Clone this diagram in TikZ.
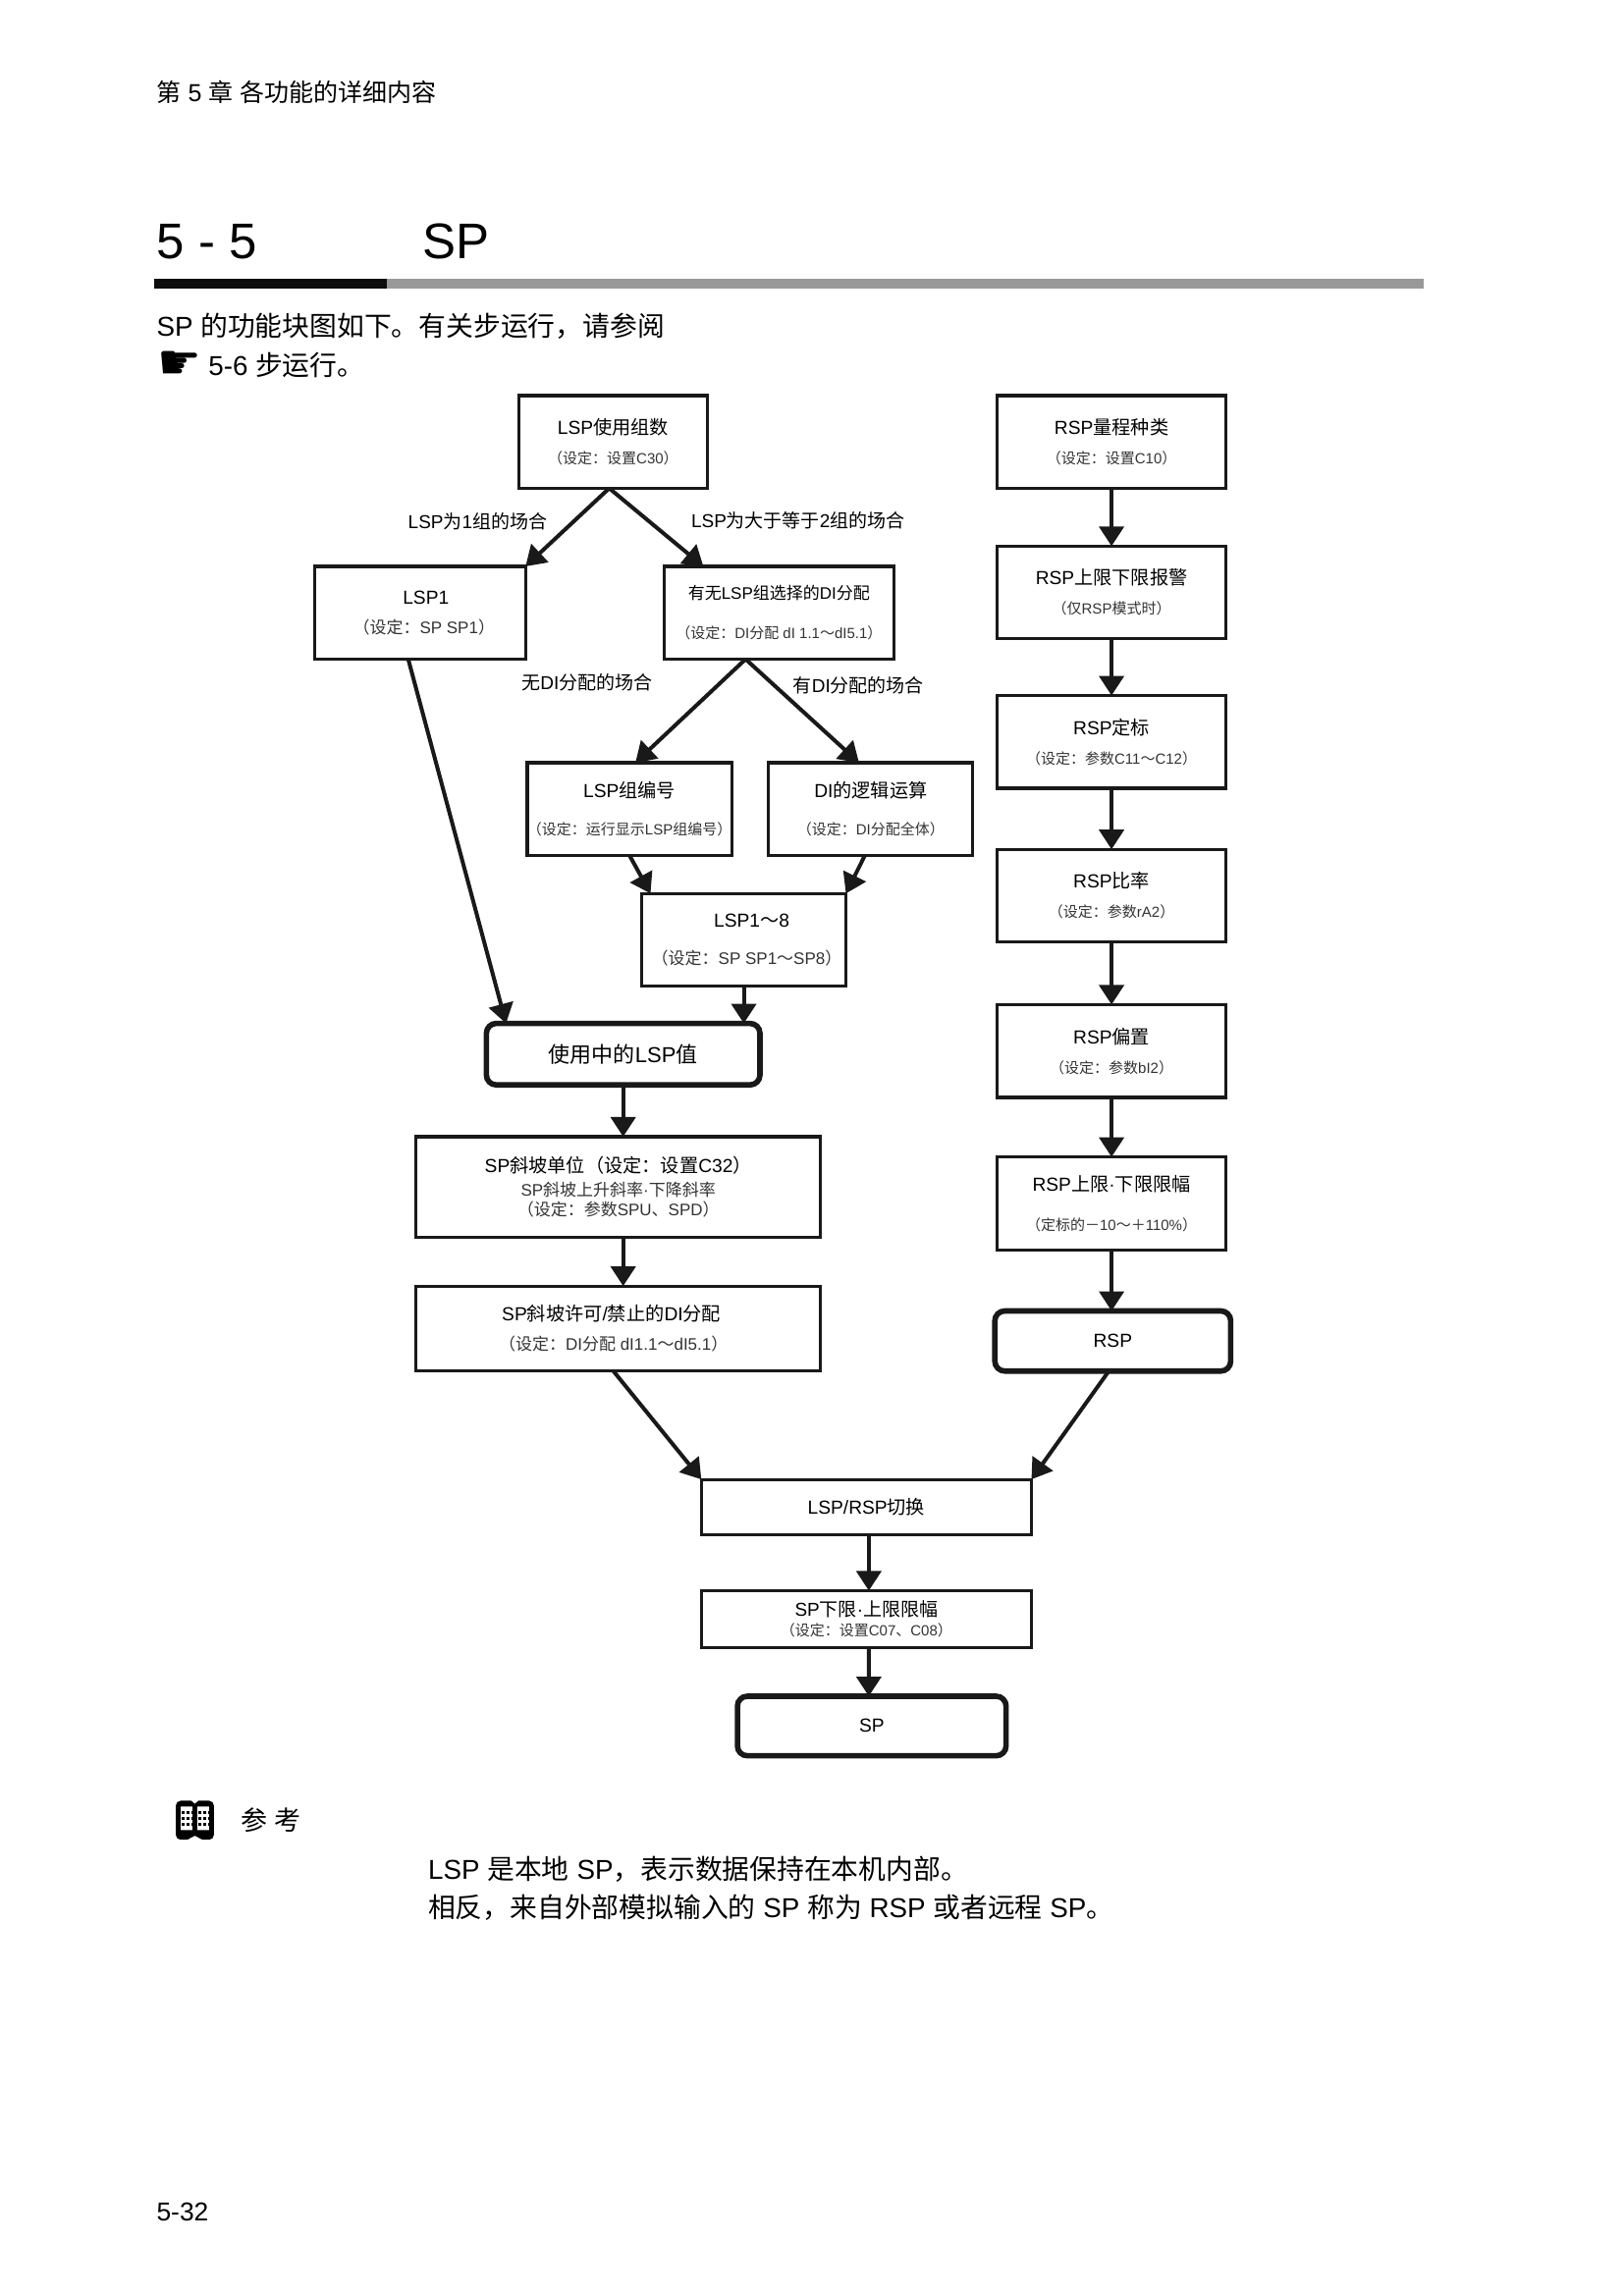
\documentclass[tikz,border=0pt]{standalone}
\usepackage{fontspec}
\setmainfont{Liberation Sans}
\newfontfamily\cjk{Noto Sans CJK SC}
\newfontfamily\handfont{DejaVu Sans}
\usetikzlibrary{arrows.meta}

% switch to the CJK face for Chinese characters
\XeTeXinterchartokenstate=1
\newXeTeXintercharclass\zhclass
\newcount\zhchar
\zhchar="4E00 \loop\ifnum\zhchar<"A000 \XeTeXcharclass\zhchar=\zhclass \advance\zhchar by 1 \repeat
\zhchar="3000 \loop\ifnum\zhchar<"3040 \XeTeXcharclass\zhchar=\zhclass \advance\zhchar by 1 \repeat
\zhchar="FF00 \loop\ifnum\zhchar<"FFF0 \XeTeXcharclass\zhchar=\zhclass \advance\zhchar by 1 \repeat
\XeTeXinterchartoks 0 \zhclass={\cjk}
\XeTeXinterchartoks 4095 \zhclass={\cjk}
\XeTeXinterchartoks \zhclass 0={\normalfont}
\XeTeXinterchartoks \zhclass 4095={\normalfont}

\definecolor{subgray}{HTML}{333333}
\newcommand{\subtxt}[1]{{\fontsize{7.5}{15}\selectfont\color{subgray}#1}}
\newcommand{\subbig}[1]{{\fontsize{8.5}{15}\selectfont\color{subgray}#1}}
\tikzset{
  box/.style={rectangle, draw=black!90, line width=1.6pt, align=center, inner sep=0pt, outer sep=0pt, font=\fontsize{9.6}{15}\selectfont},
  valbox/.style={box, rounded corners=5pt, line width=2.8pt},
  thinbox/.style={box, line width=1.5pt},
  flow/.style={-{Triangle[length=10pt,width=12.5pt]}, line width=2pt, draw=black!90},
  cond/.style={inner sep=0pt, font=\fontsize{9.5}{12}\selectfont},
  page/.style={anchor=west, inner sep=0pt, font=\fontsize{13.9}{20}\selectfont}
}

\begin{document}
\begin{tikzpicture}[x=0.4974pt, y=-0.4974pt]
\useasboundingbox (0,0) rectangle (1662.65,2351.23);

% page head
\node[page, font=\fontsize{12.5}{20}\selectfont] (chapter) at (160,94) {第 5 章 各功能的详细内容};
\node[page, font=\fontsize{25.5}{30}\selectfont] (secnum) at (160,247) {5 - 5};
\node[page, font=\fontsize{25.5}{30}\selectfont] (sectitle) at (432,247) {SP};
\fill[black!95] (158,285) rectangle (396,296);
\fill[black!40] (396,285) rectangle (1458,296);
\node[page] (intro) at (160,334) {SP 的功能块图如下。有关步运行，请参阅};
\node[page, font=\fontsize{25}{28}\selectfont\handfont] (hand) at (161,374) {☛};
\node[page] (introref) at (213,374) {5-6 步运行。};

% local side
\node[box, minimum width=96.25pt, minimum height=47.25pt] (lspnum) at (627.75,452.5) {LSP使用组数\\\subtxt{（设定：设置C30）}};
\node[box, minimum width=107.5pt, minimum height=47.25pt] (lspone) at (430,627.5) {\hspace*{6pt}LSP1\\\hspace*{4pt}\subbig{（设定：SP SP1）}};
\node[box, minimum width=117pt, minimum height=47.25pt] (dialloc) at (797.5,627.5) {{\fontsize{8.5}{15}\selectfont 有无LSP组选择的DI分配}\\[5pt]\subtxt{（设定：DI分配 dI 1.1～dI5.1）}};
\node[box, minimum width=103pt, minimum height=47.25pt] (lspgroup) at (644.5,828.5) {LSP组编号\\[4pt]\subtxt{（设定：运行显示LSP组编号）}};
\node[box, minimum width=104pt, minimum height=47.25pt] (dilogic) at (891.5,828.5) {DI的逻辑运算\\[4pt]\subtxt{（设定：DI分配全体）}};
\node[box, minimum width=104pt, minimum height=47.25pt] (lspall) at (761.5,962.5) {\hspace*{8pt}LSP1～8\\[4pt]\hspace*{3pt}\subbig{（设定：SP SP1～SP8）}};
\node[valbox, minimum width=139.3pt, minimum height=31.3pt, font=\fontsize{11}{15}\selectfont] (lspused) at (638,1079.5) {使用中的LSP值};
\node[box, minimum width=206pt, minimum height=51.2pt] (rampunit) at (633,1215.5) {SP斜坡单位（设定：设置C32）\\[-3pt]\subbig{SP斜坡上升斜率·下降斜率}\\[-5pt]\subbig{（设定：参数SPU、SPD）}};
\node[box, minimum width=206pt, minimum height=43.3pt] (rampdi) at (633,1360.5) {SP斜坡许可/禁止的DI分配\hspace*{7pt}\\\subbig{（设定：DI分配 dI1.1～dI5.1）}\hspace*{5pt}};

% remote side
\node[box, minimum width=116.4pt, minimum height=47.25pt] (rsprange) at (1138,452.5) {RSP量程种类\\\subtxt{（设定：设置C10）}};
\node[box, minimum width=116.4pt, minimum height=47.25pt] (rspalarm) at (1138,606.75) {RSP上限下限报警\\\subtxt{（仅RSP模式时）}};
\node[box, minimum width=116.4pt, minimum height=47.25pt] (rspscale) at (1138,759.75) {RSP定标\\\subtxt{（设定：参数C11～C12）}};
\node[box, minimum width=116.4pt, minimum height=47.25pt] (rspratio) at (1138,917.25) {RSP比率\\\subtxt{（设定：参数rA2）}};
\node[box, minimum width=116.4pt, minimum height=47.25pt] (rspbias) at (1138,1076.25) {RSP偏置\\\subtxt{（设定：参数bI2）}};
\node[box, minimum width=116.4pt, minimum height=47.25pt] (rsplimit) at (1138,1232.25) {RSP上限·下限限幅\\[5pt]\subtxt{（定标的－10～＋110\%）}};
\node[valbox, minimum width=120.1pt, minimum height=30.6pt] (rsp) at (1139.25,1373.25) {RSP};

% common end
\node[thinbox, minimum width=168.1pt, minimum height=28.4pt] (switch) at (887,1543.5) {LSP/RSP切换};
\node[thinbox, minimum width=168.1pt, minimum height=28.9pt, font=\fontsize{9.5}{10}\selectfont] (splimit) at (887,1658) {SP下限·上限限幅\\\subtxt{（设定：设置C07、C08）}};
\node[valbox, minimum width=136.8pt, minimum height=30.3pt] (sp) at (892.5,1767.5) {SP};

% case labels
\node[cond] (caseone) at (489,534) {LSP为1组的场合};
\node[cond] (casetwo) at (817,533) {LSP为大于等于2组的场合};
\node[cond] (casenodi) at (601,699) {无DI分配的场合};
\node[cond] (casedi) at (879,702) {有DI分配的场合};

\draw[flow] ([xshift=-2pt]lspnum.south) -- (lspone.north east);
\draw[flow] ([xshift=-2pt]lspnum.south) -- ([xshift=20pt]dialloc.north west);
\draw[flow] ([xshift=-17pt]dialloc.south) -- ([xshift=3pt]lspgroup.north);
\draw[flow] ([xshift=-17pt]dialloc.south) -- ([xshift=-6pt]dilogic.north);
\draw[flow] ([xshift=-6pt]lspone.south) -- ([xshift=10pt]lspused.north west);
\draw[flow] (lspgroup.south) -- ([xshift=4.5pt]lspall.north west);
\draw[flow] ([xshift=-3pt]dilogic.south) -- (lspall.north east);
\draw[flow] (lspall.south) -- (lspall.south |- lspused.north);
\draw[flow] (lspused.south) -- (lspused.south |- rampunit.north);
\draw[flow] (lspused.south |- rampunit.south) -- (lspused.south |- rampdi.north);
\draw[flow] ([xshift=-2.5pt]rampdi.south) -- (switch.north west);
\draw[flow] (rsprange) -- (rspalarm);
\draw[flow] (rspalarm) -- (rspscale);
\draw[flow] (rspscale) -- (rspratio);
\draw[flow] (rspratio) -- (rspbias);
\draw[flow] (rspbias) -- (rsplimit);
\draw[flow] (rsplimit.south) -- (rsplimit.south |- rsp.north);
\draw[flow] ([xshift=-2pt]rsp.south) -- (switch.north east);
\draw[flow] ([xshift=1.25pt]switch.south) -- ([xshift=1.25pt]splimit.north);
\draw[flow] ([xshift=1.25pt]splimit.south) -- ([xshift=-1.5pt]sp.north);

% reference note, book drawn by hand
\fill[black, rounded corners=2.5pt] (180,1844) rectangle (219,1884);
\fill[white] (195,1843) -- (204,1843) -- (199.5,1847) -- cycle (190,1885) -- (209,1885) -- (199.5,1880) -- cycle;
\fill[white] (185,1850) rectangle (197,1874) (202,1850) rectangle (214,1874);
\draw[line width=1.2pt, dash pattern=on 1.3pt off 1.3pt] (186,1856) -- (197,1856) (186,1862) -- (197,1862) (186,1868) -- (197,1868) (203,1856) -- (214,1856) (203,1862) -- (214,1862) (203,1868) -- (214,1868);
\node[page, font=\fontsize{13.5}{20}\selectfont] (noteref) at (246,1864) {参 考};
\node[page] (noteone) at (438,1914) {LSP 是本地 SP，表示数据保持在本机内部。};
\node[page] (notetwo) at (438,1953) {相反，来自外部模拟输入的 SP 称为 RSP 或者远程 SP。};
\node[page, font=\fontsize{13.2}{20}\selectfont] (pageno) at (160,2265) {5-32};
\end{tikzpicture}
\end{document}
